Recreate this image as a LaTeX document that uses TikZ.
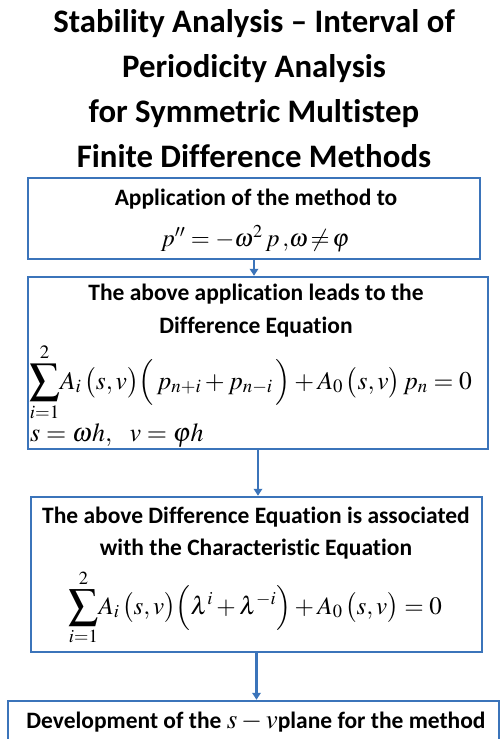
\documentclass[tikz,border=0pt]{standalone}
\usepackage{mathptmx}
\usepackage{graphicx}
\usepackage[no-math]{fontspec}
\setmainfont[Ligatures={NoCommon,NoContextual}]{Carlito}
\usetikzlibrary{arrows.meta}
\definecolor{boxblue}{RGB}{59,116,186}
\newcommand{\bigsum}{\mathop{\vcenter{\hbox{\scalebox{1.18}{$\displaystyle\sum$}}}}\limits}
\begin{document}
\begin{tikzpicture}[x=1pt,y=-1pt,
  frame/.style={draw=boxblue,line width=2.5pt,inner sep=0pt},
  ttl/.style={font=\fontsize{32.8}{38}\selectfont\bfseries,anchor=base,inner sep=0pt},
  lbl/.style={font=\fontsize{23.5}{28}\selectfont\bfseries,anchor=base,inner sep=0pt},
  eq/.style={anchor=base,inner sep=0pt},
  arr/.style={draw=boxblue,line width=2.5pt,-{Triangle[length=7pt,width=8.5pt]}}]
\useasboundingbox (0,0) rectangle (500,739);
% title
\node[ttl] (t1) at (254,32) {Stability Analysis – Interval of};
\node[ttl] (t2) at (254,77) {Periodicity Analysis};
\node[ttl] (t3) at (254,122) {for Symmetric Multistep};
\node[ttl] (t4) at (254,167) {Finite Difference Methods};
% boxes
\node[frame,minimum width=452pt,minimum height=81pt] (b1) at (254,218.5) {};
\node[frame,minimum width=460pt,minimum height=172pt] (b2) at (258,363) {};
\node[frame,minimum width=451pt,minimum height=155pt] (b3) at (256.5,574.5) {};
\node[frame,minimum width=491pt,minimum height=70pt] (b4) at (253.5,736) {};
% box 1
\node[lbl] (l1) at (256,205) {Application of the method to};
\node[eq,font=\fontsize{24.5}{28}\selectfont] (e1) at (255,246) {$p''=-\omega^2\,p\,,\!\omega\!\neq\!\varphi$};
% box 2
\node[lbl] (l2a) at (256,300) {The above application leads to the};
\node[lbl] (l2b) at (256,333) {Difference Equation};
\node[eq,anchor=base west,font=\fontsize{25.5}{30}\selectfont] (e2) at (29,389)
  {$\bigsum_{i=1}^{2}\!A_i\,\big(s,v\big)\Big(\,p_{n+i}+p_{n-i}\,\Big)+A_0\,\big(s,v\big)\,p_n=0$};
\node[eq,anchor=base west,font=\fontsize{26}{30}\selectfont] (e2b) at (30,441)
  {$s=\omega h,\;\;\,v=\varphi h$};
% box 3
\node[lbl] (l3a) at (256,523) {The above Difference Equation is associated};
\node[lbl] (l3b) at (256,555) {with the Characteristic Equation};
\node[eq,font=\fontsize{25}{30}\selectfont] (e3) at (255,614)
  {$\bigsum_{i=1}^{2}\!A_i\,\big(s,v\big)\Big(\lambda^i+\lambda^{-i}\Big)+A_0\,\big(s,v\big)=0$};
% box 4
\node[lbl] (l4) at (256,728) {Development of the {\fontsize{27}{30}\selectfont$s-v$}plane for the method};
% arrows
\draw[arr] (b1.south) -- (b1.south |- b2.north);
\draw[arr] (b2.south) -- (b2.south |- b3.north);
\draw[arr] (b3.south) -- (b3.south |- b4.north);
\end{tikzpicture}
\end{document}
